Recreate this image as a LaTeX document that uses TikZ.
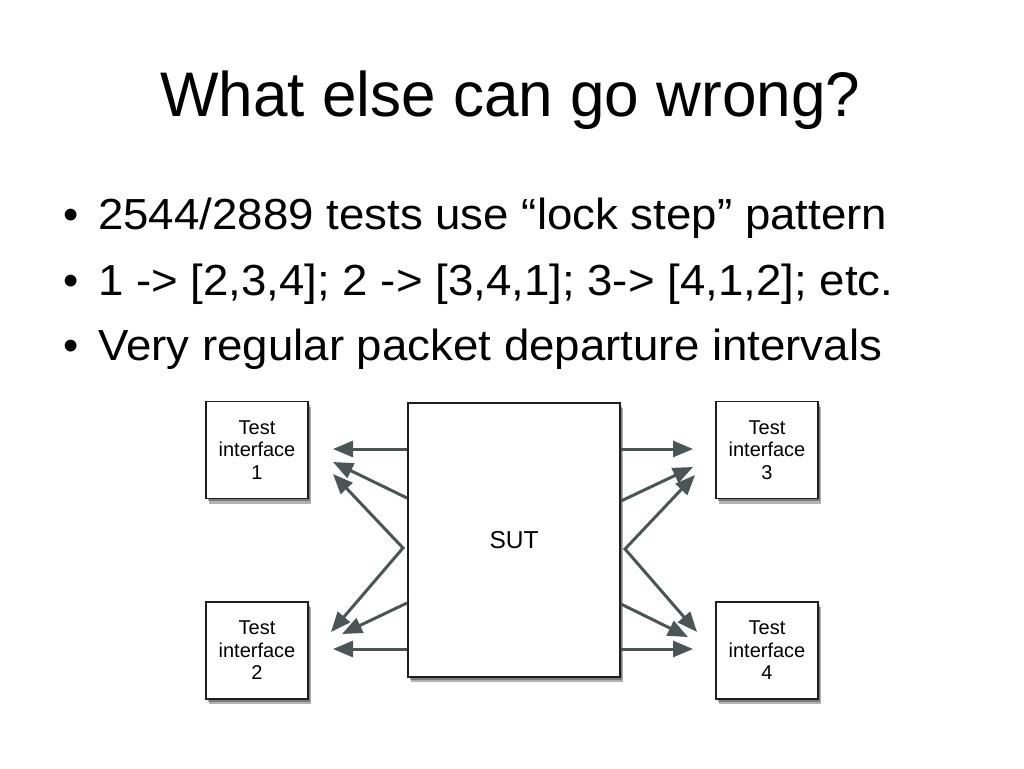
\documentclass[tikz,border=0pt]{standalone}
\usepackage{fontspec}
\setmainfont{Liberation Sans}
\usetikzlibrary{arrows.meta,shadows}
\definecolor{arrowgray}{HTML}{4B5556}
\definecolor{boxline}{HTML}{1E1E1E}
\tikzset{
  box/.style={draw=boxline, line width=1.9pt, fill=white, inner sep=0pt,
    double copy shadow={shadow xshift=1.5pt, shadow yshift=-2.5pt, opacity=0.3, fill=black, draw=none},
    align=center},
  tbox/.style={box, minimum width=102pt, minimum height=97pt,
    font=\fontsize{20}{22.5}\selectfont},
  conn/.style={draw=arrowgray, line width=3pt,
    -{Triangle[length=20pt,width=16pt]}},
  conn2/.style={draw=arrowgray, line width=3pt,
    {Triangle[length=20pt,width=16pt]}-{Triangle[length=20pt,width=16pt]}},
  txt/.style={anchor=base west, inner sep=0pt},
}
\newcommand{\wfit}[2]{\resizebox{#1}{\height}{#2}}
\begin{document}
\begin{tikzpicture}[x=1pt,y=-1pt]
\useasboundingbox (0,0) rectangle (1024,768);
\fill[white] (0,0) rectangle (1024,768);

% title and bullets
\node[txt] (title) at (160,116.7) {\wfit{700pt}{\fontsize{63}{70}\selectfont What else can go wrong?}};
\node[anchor=base, inner sep=0pt] (b1) at (71,229.3) {\fontsize{43.5}{50}\selectfont •};
\node[anchor=base, inner sep=0pt] (b2) at (71,295) {\fontsize{43.5}{50}\selectfont •};
\node[anchor=base, inner sep=0pt] (b3) at (71,360) {\fontsize{43.5}{50}\selectfont •};
\node[txt] (l1) at (98,229.3) {\wfit{789pt}{\fontsize{43.5}{50}\selectfont 2544/2889 tests use “lock step” pattern}};
\node[txt] (l2) at (98,295) {\wfit{795pt}{\fontsize{43.5}{50}\selectfont 1 -> [2,3,4]; 2 -> [3,4,1]; 3-> [4,1,2]; etc.}};
\node[txt] (l3) at (98,360) {\wfit{784pt}{\fontsize{43.5}{50}\selectfont Very regular packet departure intervals}};

% boxes
\node[box, minimum width=212pt, minimum height=274pt,
  font=\fontsize{24.5}{28}\selectfont] (sut) at (514,540) {SUT};
\node[tbox] (t1) at (257,450) {Test\\interface\\1};
\node[tbox] (t2) at (257,650.5) {Test\\interface\\2};
\node[tbox] (t3) at (767,450) {Test\\interface\\3};
\node[tbox] (t4) at (767,650.5) {Test\\interface\\4};

% connector end points
\coordinate (l1tip) at (333,449);
\coordinate (l2tip) at (333,462);
\coordinate (l3tip) at (333,474);
\coordinate (lv) at (403,548);
\coordinate (l4tip) at (331,632);
\coordinate (l5tip) at (342,634);
\coordinate (l6tip) at (333,649);
\coordinate (r1tip) at (693,449);
\coordinate (r2tip) at (693,467);
\coordinate (r3tip) at (695,475);
\coordinate (rv) at (625,549);
\coordinate (r4tip) at (697,632);
\coordinate (r5tip) at (688,637);
\coordinate (r6tip) at (693,649);

% left connectors
\draw[conn] (sut.west |- l1tip) -- (l1tip);
\draw[conn] (sut.west |- 0,498) -- (l2tip);
\draw[conn2] (l3tip) -- (lv) -- (l4tip);
\draw[conn] (sut.west |- 0,603) -- (l5tip);
\draw[conn] (sut.west |- l6tip) -- (l6tip);
% right connectors
\draw[conn] (sut.east |- r1tip) -- (r1tip);
\draw[conn] (sut.east |- 0,501) -- (r2tip);
\draw[conn2] (r3tip) -- (rv) -- (r4tip);
\draw[conn] (sut.east |- 0,604) -- (r5tip);
\draw[conn] (sut.east |- r6tip) -- (r6tip);
\end{tikzpicture}
\end{document}
